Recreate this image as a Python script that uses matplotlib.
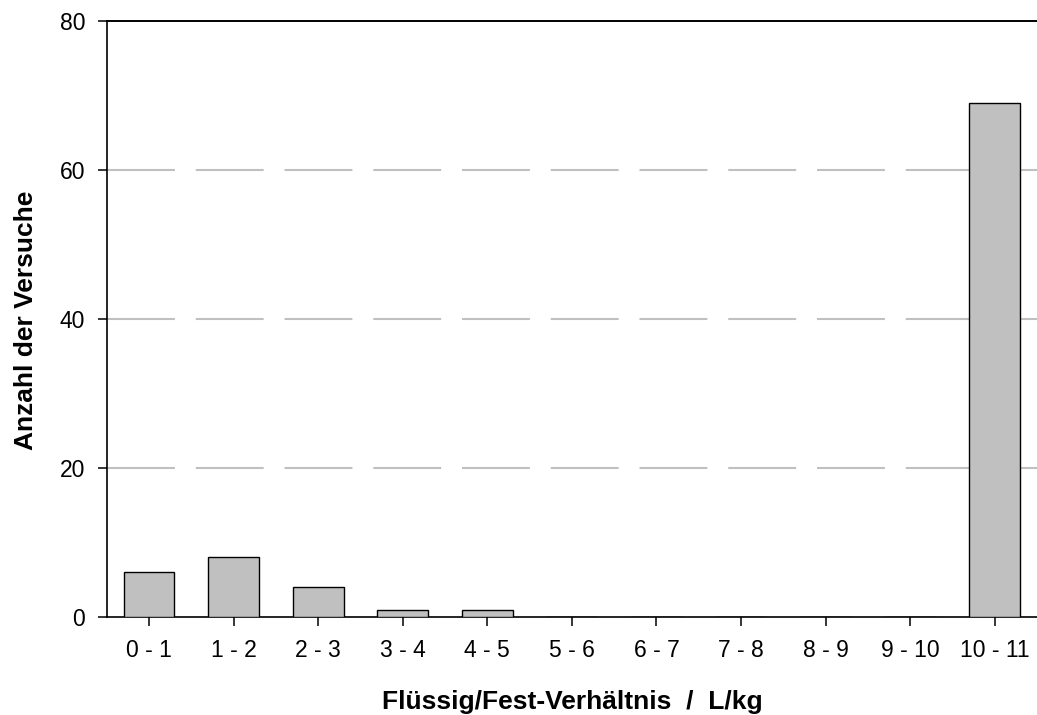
import matplotlib
matplotlib.use("Agg")
import matplotlib.pyplot as plt

categories = ["0 - 1", "1 - 2", "2 - 3", "3 - 4", "4 - 5", "5 - 6",
              "6 - 7", "7 - 8", "8 - 9", "9 - 10", "10 - 11"]
counts = [6, 8, 4, 1, 1, 0, 0, 0, 0, 0, 69]
y_ticks = [0, 20, 40, 60, 80]

plt.rcParams["font.family"] = ["Liberation Sans", "DejaVu Sans"]

fig = plt.figure(figsize=(10.37, 7.15), dpi=100)
ax = fig.add_axes([0.1029, 0.137, 0.8971, 0.8336])

x = list(range(len(categories)))
ax.bar(x, counts, width=0.6, color="#c0c0c0", edgecolor="black",
       linewidth=1.0, zorder=3)

ax.set_xlim(-0.5, 10.5)
ax.set_ylim(0, 80)
ax.set_xticks(x)
ax.set_xticklabels(categories)
ax.set_yticks(y_ticks)

for v in [20, 40, 60]:
    ax.axhline(v, color="#c0c0c0", linewidth=1.5, linestyle=(0, (32.6, 10)),
               zorder=1)

for side in ["left", "bottom", "top"]:
    ax.spines[side].set_linewidth(1.2)
ax.spines["right"].set_visible(False)
ax.spines["left"].set_zorder(4)

ax.tick_params(axis="both", direction="out", length=6.5, width=1.1,
               labelsize=16.5, colors="black", pad=9)

ax.set_xlabel("Flüssig/Fest-Verhältnis  /  L/kg", fontsize=19,
              fontweight="bold")
ax.xaxis.label.set_va("baseline")
ax.xaxis.set_label_coords(0.5, -0.1544)

ax.set_ylabel("Anzahl der Versuche", fontsize=19, fontweight="bold")
ax.yaxis.label.set(rotation_mode="anchor", ha="center", va="baseline")
ax.yaxis.set_label_coords(-0.0792, 0.4975)

# extend the 80 tick into a line along the top spine
ax.plot([0, 1], [1, 1], transform=ax.transAxes, color="black",
        linewidth=1.2, clip_on=False)

fig.savefig("out.png", dpi=100)
